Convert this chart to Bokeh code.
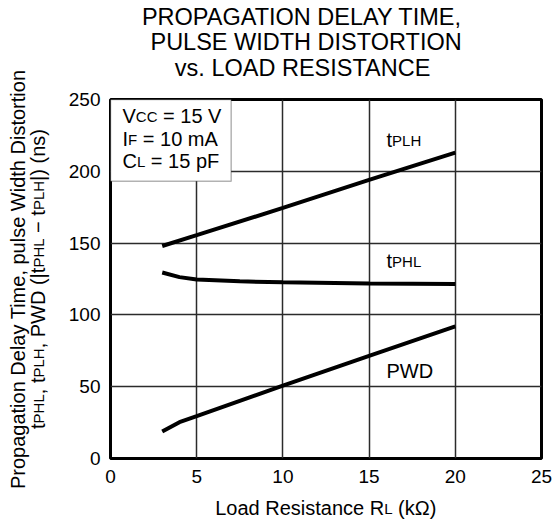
from bokeh.plotting import figure
from bokeh.models import Range1d, Label, BoxAnnotation, FixedTicker, GridBox, Column
from bokeh.embed import file_html
from bokeh.resources import INLINE
import math

# ---------------- data ----------------
x_ticks = [0, 5, 10, 15, 20, 25]
y_ticks = [0, 50, 100, 150, 200, 250]

rl_plh = [3, 5, 10, 15, 20]
t_plh = [148, 155.5, 174.5, 194, 213]

rl_phl = [3, 4, 5, 7.5, 10, 15, 20]
t_phl = [129.5, 126.3, 124.7, 123.4, 122.7, 121.9, 121.6]

rl_pwd = [3, 4, 5, 7.5, 10, 15, 20]
pwd = [18.8, 25.3, 29.5, 40.2, 50.8, 71.5, 92]

FONT = "Liberation Sans"

# ---------------- main chart ----------------
W_FIG, H_FIG = 554, 523
FL, FR, FT, FB = 110, 541, 99, 458   # frame edges in canvas px

p = figure(width=W_FIG, height=H_FIG, output_backend="svg", toolbar_location=None,
           x_range=Range1d(0, 25), y_range=Range1d(0, 250),
           min_border_left=FL, min_border_right=W_FIG - FR,
           min_border_top=FT, min_border_bottom=H_FIG - FB)
p.title.visible = False
p.outline_line_color = "black"
p.outline_line_width = 3
p.background_fill_color = "white"
p.border_fill_color = "white"

for ax, tk in ((p.xaxis, x_ticks), (p.yaxis, y_ticks)):
    ax.ticker = FixedTicker(ticks=tk)
    ax.axis_line_color = None
    ax.major_tick_line_color = None
    ax.minor_tick_line_color = None
    ax.major_tick_out = 0
    ax.major_tick_in = 0
    ax.minor_tick_out = 0
    ax.major_label_text_font = FONT
    ax.major_label_text_font_size = "19px"
    ax.major_label_text_color = "black"
p.xaxis.major_label_standoff = 11
p.yaxis.major_label_standoff = 10

p.xgrid.ticker = FixedTicker(ticks=x_ticks)
p.ygrid.ticker = FixedTicker(ticks=y_ticks)
for g in (p.xgrid, p.ygrid):
    g.grid_line_color = "#2b2b2b"
    g.grid_line_width = 1.5

p.line(rl_plh, t_plh, line_color="black", line_width=4)
p.line(rl_phl, t_phl, line_color="black", line_width=4)
p.line(rl_pwd, pwd, line_color="black", line_width=4)

p.add_layout(BoxAnnotation(left=0, right=7.0, bottom=193, top=250,
                           fill_color="white", fill_alpha=1.0,
                           line_color="black", line_width=1.5))

# ---------------- transparent text overlay (same size, no axes) ----------------
q = figure(width=W_FIG, height=H_FIG, output_backend="svg", toolbar_location=None,
           x_range=Range1d(0, W_FIG), y_range=Range1d(0, H_FIG),
           x_axis_type=None, y_axis_type=None,
           min_border=0, min_border_left=0, min_border_right=0,
           min_border_top=0, min_border_bottom=0)
q.title.visible = False
q.outline_line_color = None
q.background_fill_alpha = 0
q.border_fill_alpha = 0
q.grid.visible = False

CW = {' ': .278, ',': .278, '.': .278, '(': .333, ')': .333, '|': .26, '=': .584,
      '\u2212': .584, '0': .556, '1': .556, '2': .556, '3': .556, '4': .556,
      '5': .556, '6': .556, '7': .556, '8': .556, '9': .556,
      'A': .667, 'B': .667, 'C': .722, 'D': .722, 'E': .667, 'F': .611, 'G': .778,
      'H': .722, 'I': .278, 'L': .556, 'M': .833, 'N': .722, 'O': .778, 'P': .667,
      'R': .722, 'S': .667, 'T': .611, 'U': .722, 'V': .667, 'W': .944, 'Y': .667,
      'a': .556, 'c': .5, 'd': .556, 'e': .556, 'g': .556, 'h': .556, 'i': .222,
      'k': .5, 'l': .222, 'm': .833, 'n': .556, 'o': .556, 'p': .556, 'r': .333,
      's': .5, 't': .278, 'u': .556, 'v': .5, 'y': .5, '\u03a9': .768, 'f': .278}

BASE_FIX = 0.38   # renderer places the baseline ~0.38 em lower than asked


def tw(s, size):
    return sum(CW.get(c, .556) for c in s) * size


def rich(ix, iy, segs, rotated=False, align="left"):
    """ix, iy: page coords of the baseline start (or centre)."""
    total = sum(tw(t, s) for t, s, d in segs)
    pos = -total / 2 if align == "center" else 0.0
    for t, s, d in segs:
        lead = len(t) - len(t.lstrip())
        txt = t.strip()
        off = pos + tw(t[:lead], s)
        dd = d - BASE_FIX * s
        if rotated:
            cx, cy = ix + dd, iy - off
        else:
            cx, cy = ix + off, iy + dd
        if txt:
            q.add_layout(Label(x=cx, y=H_FIG - cy, x_units="screen", y_units="screen",
                               text=txt, text_font=FONT, text_font_size=f"{s}px",
                               text_color="black", text_align="left",
                               text_baseline="alphabetic",
                               angle=(math.pi / 2 if rotated else 0)))
        pos += tw(t, s)


M, S, SD = 20, 15, -1   # main size, subscript size, subscript shift

# title
TS = 23.5
rich(304, 25, [("PROPAGATION DELAY TIME,", TS, 0)], align="center")
rich(306, 50, [("PULSE WIDTH DISTORTION", TS, 0)], align="center")
rich(303, 76, [("vs. LOAD RESISTANCE", TS, 0)], align="center")

# x axis label
rich(325.5, 515, [("Load Resistance R", M, 0), ("L", S, SD), (" (k\u03a9)", M, 0)], align="center")

# y axis label (two lines, rotated)
rich(25, 278.5, [("Propagation Delay Time, pulse Width Distortion", M, 0)],
     rotated=True, align="center")
rich(45, 278.5, [("t", M, 0), ("PHL", S, SD), (", t", M, 0), ("PLH", S, SD),
                 (", PWD (|t", M, 0), ("PHL", S, SD), (" \u2212 t", M, 0), ("PLH", S, SD),
                 ("|) (ns)", M, 0)], rotated=True, align="center")

# conditions box text
rich(122, 123, [("V", M, 0), ("CC", S, SD), (" = 15 V", M, 0)])
rich(122, 146, [("I", M, 0), ("F", S, SD), (" = 10 mA", M, 0)])
rich(122, 168, [("C", M, 0), ("L", S, SD), (" = 15 pF", M, 0)])

# curve labels
rich(386, 147, [("t", M, 0), ("PLH", S, SD)])
rich(386, 268, [("t", M, 0), ("PHL", S, SD)])
rich(386, 378, [("PWD", M, 0)])

layout = GridBox(children=[(p, 0, 0), (Column(children=[q]), 0, 0)])
open("out.html", "w").write(file_html(layout, INLINE))
